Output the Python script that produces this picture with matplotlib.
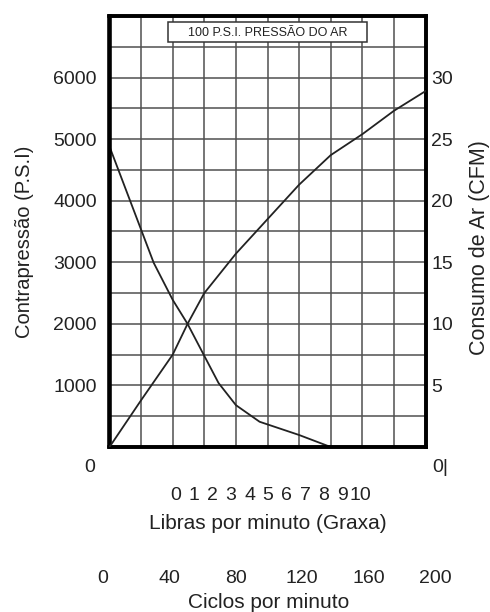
import numpy as np
import matplotlib
matplotlib.use('Agg')
from matplotlib import pyplot as plt
from matplotlib.patches import Rectangle

plt.rcParams['font.family'] = ['Liberation Sans', 'DejaVu Sans']
txt = '#222222'

# back pressure (left axis) vs cycles per minute
cyc_psi = [0, 20, 28, 40, 49.4, 60, 69, 80, 95, 120, 140]
psi = [4880, 3530, 2990, 2390, 2000, 1480, 1040, 680, 410, 195, 0]
# air consumption (right axis) vs cycles per minute
cyc_cfm = [0, 20, 40, 49.4, 60, 80, 100, 120, 140, 160, 180, 200]
cfm = [0, 3.8, 7.5, 10.0, 12.5, 15.7, 18.5, 21.3, 23.7, 25.4, 27.3, 28.9]

psi_ticks = [1000, 2000, 3000, 4000, 5000, 6000]
cfm_ticks = [5, 10, 15, 20, 25, 30]
libras_ticks = list(range(0, 11))
ciclos_ticks = [0, 40, 80, 120, 160, 200]

W, H = 490, 612
def box(x0, y0, x1, y1):
    return [x0 / W, 1 - y1 / H, (x1 - x0) / W, (y1 - y0) / H]

fig = plt.figure(figsize=(4.9, 6.12), dpi=100)
ax = fig.add_axes(box(109.5, 16, 425.5, 447))
ax.set_xlim(0, 200)
ax.set_ylim(0, 7000)
ax.set_xticks(np.arange(0, 201, 20))
yt = np.arange(0, 7001, 500)
ax.set_yticks(yt)
ax.set_yticklabels([str(v) if v in psi_ticks else '' for v in yt])
ax.grid(True, color='#505050', lw=1.1)
ax.tick_params(length=0, labelbottom=False, labelsize=14, labelcolor=txt, pad=9)
for s in ax.spines.values():
    s.set_linewidth(2.6)
    s.set_zorder(5)
ax.set_ylabel('Contrapressão (P.S.I)', fontsize=14.5, color=txt, labelpad=14)
ax.yaxis.label.set_y(0.476)

ax.plot(cyc_psi, psi, color='#222222', lw=1.3, zorder=3)

ax2 = ax.twinx()
ax2.set_ylim(0, 35)
ax2.set_yticks(cfm_ticks)
ax2.tick_params(length=0, labelsize=14, labelcolor=txt, pad=4)
for s in ax2.spines.values():
    s.set_linewidth(2.6)
ax2.set_ylabel('Consumo de Ar (CFM)', fontsize=15.5, color=txt, labelpad=12)
ax2.yaxis.label.set_y(0.463)
ax2.plot(cyc_cfm, cfm, color='#222222', lw=1.3, zorder=3)

# header box inside the grid
ax.add_patch(Rectangle((37.2, 6570), 125.9, 325, facecolor='white',
                       edgecolor='#333333', lw=1.1, zorder=4))
ax.text(100, 6732, '100 P.S.I. PRESSÃO DO AR', fontsize=9, color=txt,
        ha='center', va='center', zorder=6)

# zero labels below the frame
fig.text(90 / W, 1 - 468 / H, '0', fontsize=14, color=txt, ha='center', va='center')
fig.text(440 / W, 1 - 468 / H, '0|', fontsize=14, color=txt, ha='center', va='center')

# pounds per minute scale
axl = fig.add_axes(box(175.5, 486, 360.5, 486.1))
axl.set_xlim(0, 10)
axl.set_xticks(libras_ticks)
axl.set_yticks([])
axl.tick_params(length=0, labelsize=14, labelcolor=txt, pad=1)
for s in axl.spines.values():
    s.set_visible(False)
axl.patch.set_visible(False)
axl.set_xlabel('Libras por minuto (Graxa)', fontsize=15, color=txt, labelpad=7)

# cycles per minute scale
axc = fig.add_axes(box(103, 569, 435, 569.1))
axc.set_xlim(0, 200)
axc.set_xticks(ciclos_ticks)
axc.set_yticks([])
axc.tick_params(length=0, labelsize=14, labelcolor=txt, pad=1)
for s in axc.spines.values():
    s.set_visible(False)
axc.patch.set_visible(False)
axc.set_xlabel('Ciclos por minuto', fontsize=15, color=txt, labelpad=4)

fig.savefig('out.png', dpi=100)
